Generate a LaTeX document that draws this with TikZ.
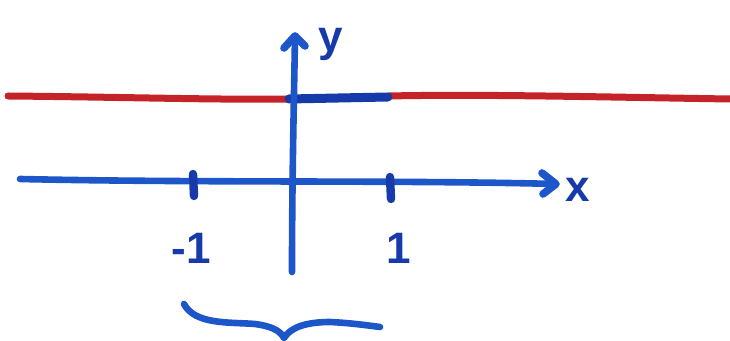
\documentclass[tikz,border=0pt]{standalone}
\usepackage{fontspec}
\setmainfont{Liberation Sans}
\definecolor{pen}{RGB}{28,86,200}
\definecolor{dpen}{RGB}{22,58,170}
\definecolor{rpen}{RGB}{196,36,40}
\tikzset{
  axisline/.style={draw=pen, line width=3.3pt, line cap=round, line join=round},
  redline/.style={draw=rpen, line width=3.5pt, line cap=round},
  tickmark/.style={draw=dpen, line width=4.2pt, line cap=round},
  lbl/.style={text=dpen, font=\fontsize{22}{24}\selectfont\bfseries, inner sep=0pt},
}
\begin{document}
\begin{tikzpicture}[x=0.5pt,y=-0.5pt]
\useasboundingbox (0,0) rectangle (730,341);
% red line
\draw[redline] (8,96) .. controls (120,97) and (220,100) .. (287,99);
\draw[redline] (389,96) .. controls (480,94) and (600,97) .. (730,99);
% blue segment on red line
\draw[draw=dpen, line width=4.5pt, line cap=round] (289,99) -- (388,97);
% coordinates
\coordinate (ybot) at (292,272);
\coordinate (ytop) at (295,36);
\coordinate (xl) at (20,179);
\coordinate (xr) at (556,184);
% y axis
\draw[axisline] (ybot) .. controls (292,180) and (294,100) .. (ytop);
\draw[axisline, line width=3.8pt] (284,48) -- (ytop) -- (305,46);
% x axis
\draw[axisline] (xl) .. controls (200,183) and (400,180) .. (xr);
\draw[axisline, line width=3.8pt] (542,173) -- (xr) -- (543,194);
% ticks
\draw[tickmark] (193,174) -- (194,196);
\draw[tickmark] (390,177) -- (391,199);
% labels
\node[lbl] (ylab) at (331,44) {y};
\node[lbl] (xlab) at (578,190) {x};
\node[lbl] (mone) at (191,248) {-1};
\node[lbl] (one) at (399,248) {1};
% brace (hand drawn)
\coordinate (bl) at (184,304);
\coordinate (btip) at (284,338);
\coordinate (br) at (380,327);
\draw[axisline] (bl) .. controls (195,325) and (230,322) .. (255,324)
  .. controls (270,326) and (280,330) .. (btip)
  .. controls (290,328) and (305,322) .. (330,322)
  .. controls (350,323) and (365,325) .. (br);
\end{tikzpicture}
\end{document}
